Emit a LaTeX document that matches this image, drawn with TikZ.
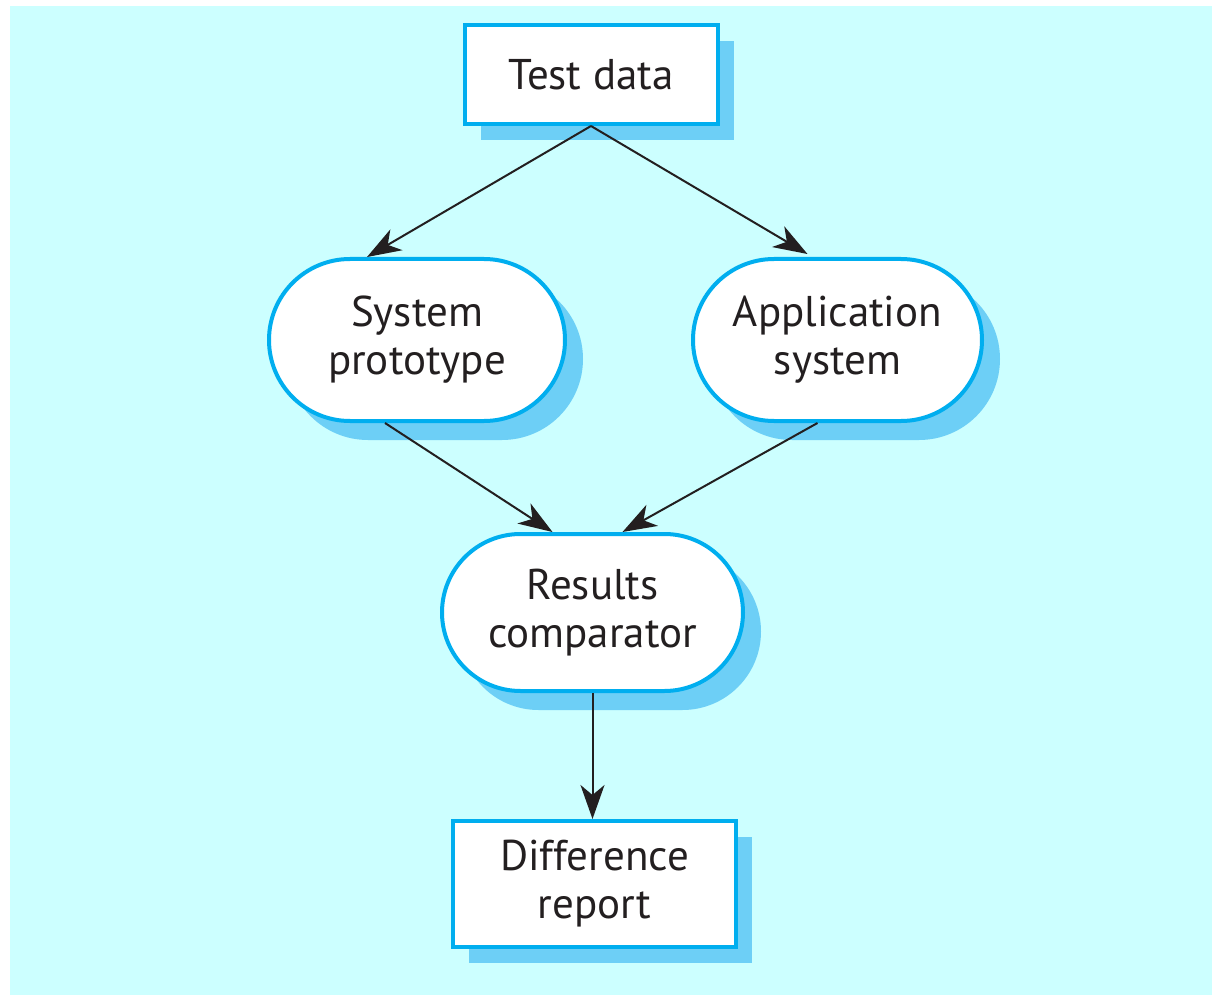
\documentclass[tikz,border=0pt]{standalone}
\usepackage{fontspec}
\setmainfont{PT Sans}
\usetikzlibrary{arrows.meta,positioning,calc,shapes.misc,shadows}
\definecolor{bgcyan}{HTML}{CCFFFF}
\definecolor{linecyan}{HTML}{00AEEF}
\definecolor{shadecyan}{HTML}{6DCFF6}
\definecolor{inkgrey}{HTML}{231F20}

\begin{document}
\begin{tikzpicture}[
    base/.style={draw=linecyan,line width=2pt,fill=white,align=center,inner sep=0pt,
      text=inkgrey,font=\fontsize{21.5}{24}\selectfont},
    box/.style={base,rectangle,
      drop shadow={shadow xshift=8pt,shadow yshift=-8pt,fill=shadecyan,opacity=1}},
    oval/.style={base,rounded rectangle,inner xsep=-20pt,
      drop shadow={shadow xshift=9pt,shadow yshift=-9.5pt,fill=shadecyan,opacity=1}},
    link/.style={->,draw=inkgrey,line width=1pt},
    >={Stealth[length=17pt,width=12pt,inset=5pt]}]
    \useasboundingbox (0,0) rectangle (606pt,-497.5pt);
    \fill[bgcyan] (5pt,-3pt) rectangle (606pt,-497.5pt);

    \node[box,minimum width=126.5pt,minimum height=49.5pt] (test) at (295.5pt,-37.25pt) {Test data};
    \node[oval,minimum width=108pt,minimum height=81pt] (proto) at (208.5pt,-170pt) {System\\prototype};
    \node[oval,minimum width=104.5pt,minimum height=81pt] (app) at (418.75pt,-170pt) {Application\\system};
    \node[oval,minimum width=110.5pt,minimum height=78.5pt] (comp) at (296.25pt,-306.25pt) {Results\\comparator};
    \node[box,minimum width=141.5pt,minimum height=63pt] (report) at (297.25pt,-442pt) {Difference\\report};

    \draw[link] (test.south) -- ($(proto.north)+(-25pt,0)$);
    \draw[link] (test.south) -- ($(app.north)+(-15pt,1.5pt)$);
    \draw[link] ($(proto.south)+(-16pt,0)$) -- ($(comp.north)+(-20pt,0)$);
    \draw[link] ($(app.south)+(-10pt,0)$) -- ($(comp.north)+(15pt,0)$);
    \draw[link] (comp.south) -- (comp.south |- report.north);
\end{tikzpicture}
\end{document}
